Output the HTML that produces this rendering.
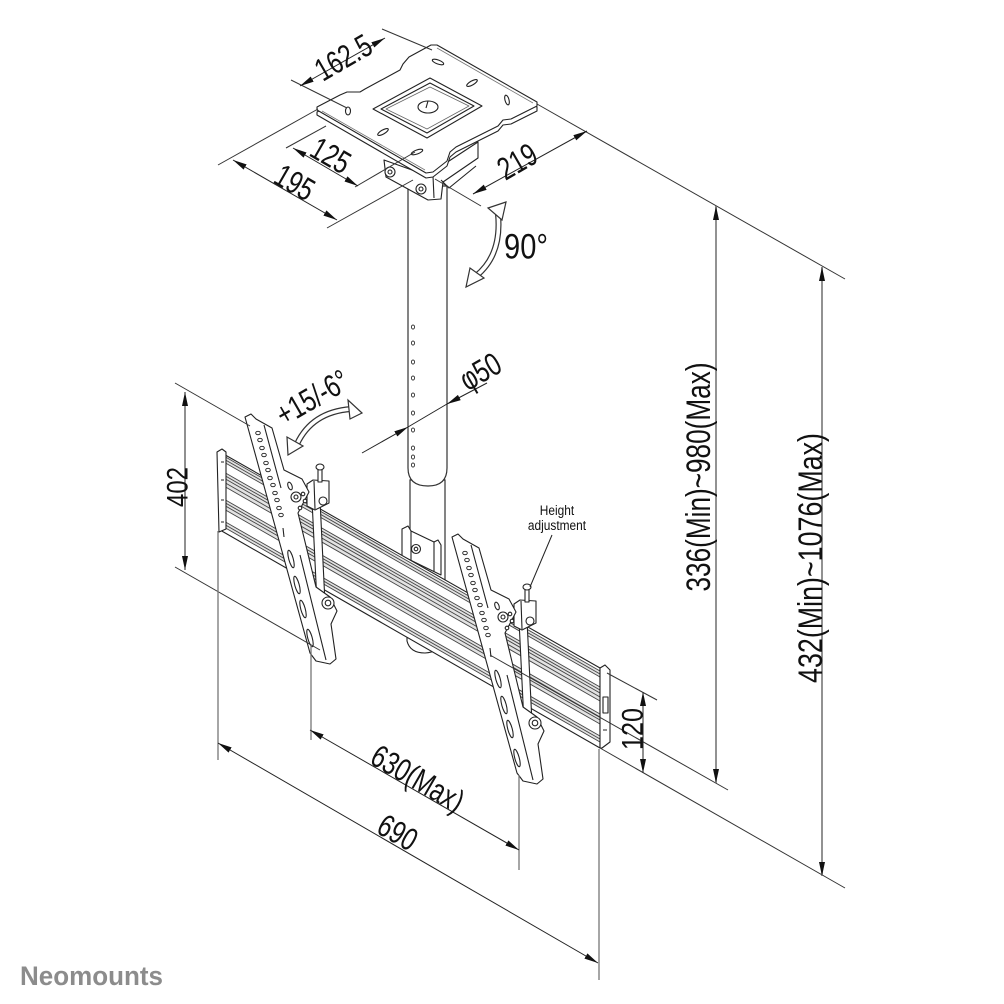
<!DOCTYPE html>
<html><head><meta charset="utf-8"><style>
html,body{margin:0;padding:0;background:#fff;}
svg{display:block;}
text{font-family:"Liberation Sans",Arial,sans-serif;fill:#111;}
</style></head><body>
<svg width="1004" height="1004" viewBox="0 0 1004 1004" xmlns="http://www.w3.org/2000/svg">
<defs>
<marker id="ar" viewBox="0 0 14 6" refX="14" refY="3" markerWidth="14" markerHeight="6" markerUnits="userSpaceOnUse" orient="auto-start-reverse"><path d="M0,0 L14,3 L0,6 z" fill="#111"/></marker>
</defs>
<rect width="1004" height="1004" fill="#fff"/>

<!-- POLE -->
<g stroke="#333" stroke-width="1.2" fill="#fff">
<path d="M410,480 L410,590 L445,590 L445,480 Z"/>
<path d="M408,186 L408,468 Q408,486 428,486 Q447,486 447,468 L447,186 Z"/>
</g>
<g fill="#fff" stroke="#333" stroke-width="0.9">
<ellipse cx="413" cy="327" rx="1.6" ry="2"/><ellipse cx="413" cy="343" rx="1.6" ry="2"/>
<ellipse cx="413" cy="362" rx="1.6" ry="2"/><ellipse cx="413" cy="378" rx="1.6" ry="2"/>
<ellipse cx="413" cy="395" rx="1.6" ry="2"/><ellipse cx="413" cy="413" rx="1.6" ry="2"/>
<ellipse cx="413" cy="430" rx="1.6" ry="2"/><ellipse cx="413" cy="448" rx="1.6" ry="2"/>
<ellipse cx="413" cy="457" rx="1.6" ry="2"/><ellipse cx="413" cy="465" rx="1.6" ry="2"/>
</g>

<!-- UNDER-PLATE BRACKET -->
<g stroke="#222" stroke-width="1.1" fill="#fff" stroke-linejoin="round">
<polygon points="384,160 386,177 428,200 441,199 443,182 478,158 478,142 446,163 433,174 426,175"/>
<path d="M441,180 L449,188 L476,166" fill="none"/>
<path d="M433,176 L434,198" fill="none"/>
<circle cx="390" cy="172" r="5"/><circle cx="390" cy="172" r="2"/>
<circle cx="421" cy="189" r="5"/><circle cx="421" cy="189" r="2"/>
</g>

<!-- CEILING PLATE -->
<g stroke="#222" stroke-width="1.1" fill="#fff" stroke-linejoin="round">
<polygon transform="translate(0,5)" points="317,107 340,95 347,92 360,92 365,89 400,70 403,64 409,57 420,51 431,45 437,45 537,102 537,106 511,119 503,120 498,126 456,147 450,152 447,161 433,172 426,173 317,110"/>
<polygon points="317,107 340,95 347,92 360,92 365,89 400,70 403,64 409,57 420,51 431,45 437,45 537,102 537,106 511,119 503,120 498,126 456,147 450,152 447,161 433,172 426,173 317,110"/>
<path d="M322,111 L425,170 M437,48 L533,103" fill="none" stroke="#777" stroke-width="0.8"/>
<polygon points="373,109 430,78 482,106 427,138"/>
<polygon points="381,109 430,83 474,106 427,133"/>
<polygon points="386,109 430,87 469,106 427,129" fill="none" stroke="#666" stroke-width="0.8"/>
<ellipse cx="428" cy="107" rx="10" ry="6"/>
<path d="M428,101 L426,108" fill="none"/>
<ellipse cx="438" cy="62" rx="6" ry="2" transform="rotate(20 438 62)"/>
<ellipse cx="472" cy="83" rx="6" ry="2" transform="rotate(-30 472 83)"/>
<ellipse cx="507" cy="100" rx="2" ry="5" transform="rotate(-15 507 100)"/>
<ellipse cx="348" cy="111" rx="2.5" ry="4"/>
<ellipse cx="383" cy="132" rx="6" ry="2" transform="rotate(-30 383 132)"/>
<ellipse cx="417" cy="152" rx="6" ry="2" transform="rotate(-20 417 152)"/>
</g>

<!-- POLE CLAMP + STUB -->
<g stroke="#222" stroke-width="1.1" fill="#fff" stroke-linejoin="round">
<path d="M407,641 Q410,653 425,653 Q438,652 441,645 L441,640 L407,636 Z"/>
<polygon points="402,529 408,526 411,531 434,542 438,540 441,545 441,575 402,556"/>
<path d="M411,531 L411,560 M434,542 L434,572" fill="none"/>
<circle cx="416" cy="549" r="4.5"/><circle cx="416" cy="549" r="1.8"/>
</g>

<!-- RAIL -->
<g stroke="#222" stroke-width="1.1" stroke-linejoin="round">
<polygon points="220,452 600,668 600,748 220,530" fill="#fff"/>
<g stroke="none" fill="#e2e2e2">
<polygon points="222,455 600,671 600,677 222,461"/>
<polygon points="222,471 600,687 600,701 222,485"/>
<polygon points="222,498 600,714 600,724 222,508"/>
<polygon points="222,520 600,736 600,742 222,526"/>
</g>
<g stroke="#444" stroke-width="0.9">
<line x1="222" y1="455" x2="600" y2="671"/>
<line x1="222" y1="458" x2="600" y2="674"/>
<line x1="222" y1="461" x2="600" y2="677"/>
<line x1="222" y1="471" x2="600" y2="687"/>
<line x1="222" y1="474" x2="600" y2="690"/>
<line x1="222" y1="477" x2="600" y2="693"/>
<line x1="222" y1="481" x2="600" y2="697"/>
<line x1="222" y1="485" x2="600" y2="701"/>
<line x1="222" y1="498" x2="600" y2="714"/>
<line x1="222" y1="501" x2="600" y2="717"/>
<line x1="222" y1="504" x2="600" y2="720"/>
<line x1="222" y1="508" x2="600" y2="724"/>
<line x1="222" y1="520" x2="600" y2="736"/>
<line x1="222" y1="523" x2="600" y2="739"/>
<line x1="222" y1="526" x2="600" y2="742"/>
</g>
<polygon points="217,452 222,449 226,452 226,529 219,532" fill="#fff"/>
<path d="M221,462 h3 M221,480 h3 M221,500 h3 M221,522 h3" fill="none"/>
<polygon points="600,668 605,665 610,670 610,742 602,748 600,748" fill="#fff"/>
<path d="M603,697 L608,697 L608,713 L603,713 Z M603,730 h4" fill="none"/>
</g>

<!-- TILT BRACKET (left) -->
<g id="brk" stroke="#222" stroke-width="1.1" fill="#fff" stroke-linejoin="round">
<polygon points="312,500 320,500 325,603 317,603"/>
<polygon points="307,484 313,480 329,481 329,503 315,510 307,506"/>
<path d="M314,481 L315,509" fill="none"/>
<rect x="318" y="467" width="4" height="15"/>
<ellipse cx="320" cy="467" rx="4" ry="3"/>
<circle cx="323" cy="501" r="4"/>
<polygon points="245,417 251,414 256,419 272,428 284,470 302,479 309,492 298,513 316,587 330,597 337,611 331,624 336,659 330,664 316,661 310,653"/>
<path d="M264,425 L281,488 M300,555 L326,660" fill="none"/>
<g stroke-width="0.9">
<ellipse cx="258" cy="433" rx="2.3" ry="1.7"/><ellipse cx="260" cy="440" rx="2.3" ry="1.7"/>
<ellipse cx="262" cy="448" rx="2.3" ry="1.7"/><ellipse cx="264" cy="455" rx="2.3" ry="1.7"/>
<ellipse cx="266" cy="463" rx="2.3" ry="1.7"/><ellipse cx="268" cy="470" rx="2.3" ry="1.7"/>
<ellipse cx="270" cy="478" rx="2.3" ry="1.7"/><ellipse cx="273" cy="485" rx="2.3" ry="1.7"/>
<ellipse cx="275" cy="493" rx="2.3" ry="1.7"/><ellipse cx="277" cy="500" rx="2.3" ry="1.7"/>
<ellipse cx="279" cy="508" rx="2.3" ry="1.7"/><ellipse cx="281" cy="515" rx="2.3" ry="1.7"/>
</g>
<path d="M283,528 L284,537" fill="none"/>
<ellipse cx="291" cy="559" rx="9" ry="2.2" transform="rotate(74.6 291 559)"/>
<ellipse cx="297" cy="585" rx="9" ry="2.2" transform="rotate(74.6 297 585)"/>
<ellipse cx="303" cy="609" rx="9" ry="2.2" transform="rotate(74.6 303 609)"/>
<ellipse cx="310" cy="638" rx="9" ry="2.2" transform="rotate(74.6 310 638)"/>
<ellipse cx="290" cy="486" rx="2" ry="4" transform="rotate(-20 290 486)"/>
<circle cx="296" cy="497" r="5"/><circle cx="296" cy="497" r="2"/>
<circle cx="303" cy="494" r="1.8"/><circle cx="305" cy="501" r="1.8"/><circle cx="300" cy="508" r="1.8"/>
<circle cx="328" cy="603" r="6"/><circle cx="328" cy="603" r="2.8"/>
</g>
<use href="#brk" transform="translate(207,120)"/>

<!-- EXTENSION LINES -->
<g stroke="#333" stroke-width="1" fill="none">
<line x1="291" y1="80" x2="347" y2="108"/>
<line x1="382" y1="29" x2="432" y2="50"/>
<line x1="286" y1="148" x2="326" y2="126"/>
<line x1="355" y1="187" x2="415" y2="152"/>
<line x1="218" y1="165" x2="318" y2="109"/>
<line x1="327" y1="228" x2="413" y2="180"/>
<line x1="435" y1="179" x2="481" y2="206"/>
<line x1="537" y1="104" x2="845" y2="279"/>
<line x1="175" y1="383" x2="250" y2="426"/>
<line x1="175" y1="567" x2="320" y2="650"/>
<line x1="607" y1="673" x2="657" y2="700"/>
<line x1="600" y1="748" x2="845" y2="888"/>
<line x1="490" y1="655" x2="728" y2="790"/>
</g>
<g stroke="#777" stroke-width="1.3" fill="none">
<line x1="311" y1="645" x2="311" y2="740"/>
<line x1="519" y1="775" x2="519" y2="870"/>
<line x1="218" y1="531" x2="218" y2="760"/>
<line x1="599" y1="749" x2="599" y2="980"/>
</g>

<!-- DIMENSION LINES -->
<g stroke="#222" stroke-width="1" fill="none" marker-start="url(#ar)" marker-end="url(#ar)">
<line x1="300" y1="86" x2="385" y2="38"/>
<line x1="293" y1="148" x2="358" y2="186"/>
<line x1="233" y1="160" x2="337" y2="220"/>
<line x1="473" y1="194" x2="587" y2="131"/>
<line x1="185" y1="392" x2="185" y2="570"/>
<line x1="310" y1="730" x2="519" y2="850"/>
<line x1="218" y1="743" x2="598" y2="963"/>
<line x1="643" y1="692" x2="643" y2="773"/>
</g>
<g stroke="#777" stroke-width="1.6" fill="none" marker-start="url(#ar)" marker-end="url(#ar)">
<line x1="716" y1="206" x2="716" y2="783"/>
<line x1="822" y1="267" x2="822" y2="876"/>
</g>
<g stroke="#222" stroke-width="1" fill="none">
<line x1="362" y1="453" x2="408" y2="427" marker-end="url(#ar)"/>
<line x1="408" y1="427" x2="447" y2="404"/>
<line x1="487" y1="383" x2="447" y2="404" marker-end="url(#ar)"/>
<line x1="552" y1="535" x2="530" y2="587"/>
</g>

<!-- HOLLOW CURVED ARROWS -->
<g fill="none" stroke-linecap="butt">
<path d="M476,276 Q502,255 498,214" stroke="#333" stroke-width="6"/>
<path d="M476,276 Q502,255 498,214" stroke="#fff" stroke-width="3.6"/>
<path d="M297,444 Q312,412 351,409" stroke="#333" stroke-width="6"/>
<path d="M297,444 Q312,412 351,409" stroke="#fff" stroke-width="3.6"/>
</g>
<g fill="#fff" stroke="#333" stroke-width="1.2" stroke-linejoin="miter">
<polygon points="506,202 488,208 502,220"/>
<polygon points="466,287 470,268 484,278"/>
<polygon points="362,413 348,400 350,419"/>
<polygon points="288,455 287,437 303,446"/>
</g>

<!-- LABELS -->
<g font-size="32" text-anchor="middle">
<g transform="translate(343,57) rotate(-30) scale(0.75,1)"><text x="0" y="11.5">162.5</text></g>
<g transform="translate(331,155) rotate(30) scale(0.75,1)"><text x="0" y="11.5">125</text></g>
<g transform="translate(295,182) rotate(30) scale(0.75,1)"><text x="0" y="11.5">195</text></g>
<g transform="translate(517,161) rotate(-30) scale(0.75,1)"><text x="0" y="11.5">219</text></g>
<g transform="translate(526,246) scale(0.83,1)"><text x="0" y="12.5" font-size="35">90°</text></g>
<g transform="translate(480,371) rotate(-30) scale(0.75,1)"><text x="0" y="11.5">φ50</text></g>
<g transform="translate(312,397) rotate(-30) scale(0.75,1)"><text x="0" y="11.5">+15/-6°</text></g>
<g transform="translate(177,487) rotate(-90) scale(0.8,1)"><text x="0" y="10.5" font-size="30">402</text></g>
<g transform="translate(418,778) rotate(30) scale(0.75,1)"><text x="0" y="11.5">630(Max)</text></g>
<g transform="translate(398,832) rotate(30) scale(0.75,1)"><text x="0" y="11.5">690</text></g>
<g transform="translate(632,729) rotate(-90) scale(0.84,1)"><text x="0" y="10.5" font-size="30">120</text></g>
<g transform="translate(698,477) rotate(-90) scale(0.77,1)"><text x="0" y="12" font-size="34">336(Min)~980(Max)</text></g>
<g transform="translate(810,558) rotate(-90) scale(0.79,1)"><text x="0" y="12" font-size="34">432(Min)~1076(Max)</text></g>
</g>
<g text-anchor="middle" font-size="14">
<g transform="translate(557,515) scale(0.85,1)"><text x="0" y="0">Height</text></g>
<g transform="translate(557,530) scale(0.85,1)"><text x="0" y="0">adjustment</text></g>
</g>
<text x="20" y="985" font-size="27" font-weight="bold" style="fill:#8c8c8c" textLength="143" lengthAdjust="spacingAndGlyphs">Neomounts</text>
</svg>
</body></html>
